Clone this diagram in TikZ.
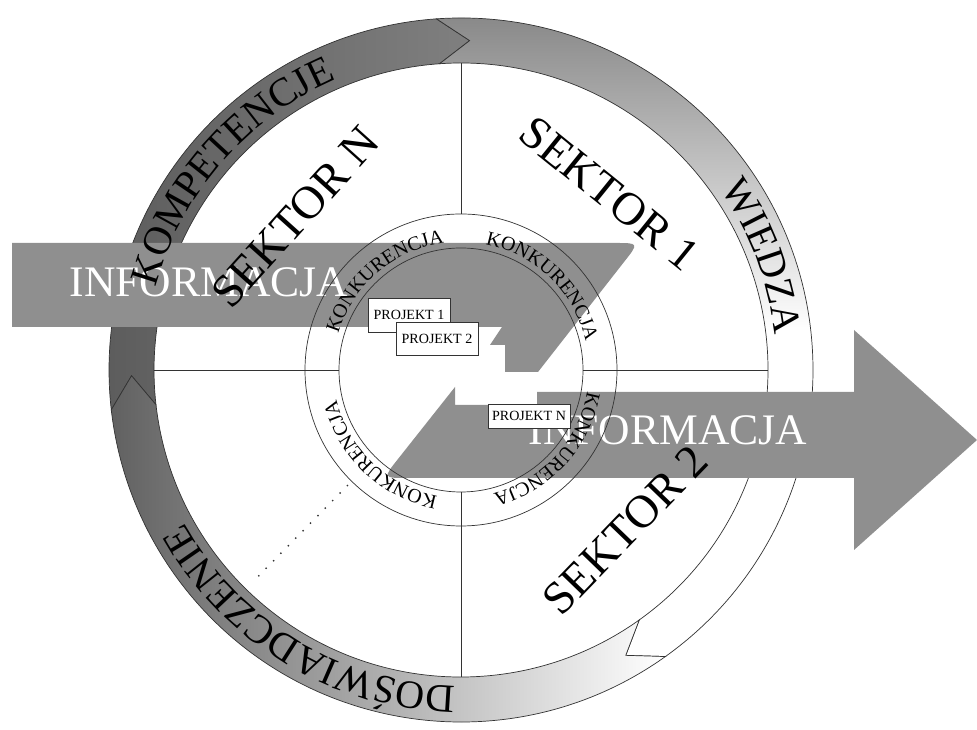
\documentclass[tikz,border=0pt]{standalone}
\usepackage{fontspec}
\setmainfont{Liberation Serif}
\usepackage{tikz}
\usetikzlibrary{decorations.text}
\definecolor{infoGray}{gray}{0.56}
\definecolor{edgeGray}{gray}{0.2}
\newcommand{\ringfont}{\fontsize{28.5}{30}\selectfont}
\newcommand{\konkfont}{\fontsize{14.2}{15}\selectfont}

\begin{document}
\begin{tikzpicture}[x=0.25mm,y=0.25mm,
    ringline/.style={draw=edgeGray,line width=0.5pt},
    projbox/.style={draw=edgeGray,fill=white,line width=0.5pt,inner sep=0pt,
      minimum width=20.5mm,font=\fontsize{10}{11}\selectfont},
    sektor/.style={font=\fontsize{33}{34}\selectfont},
    infotext/.style={font=\fontsize{31}{32}\selectfont,text=white,anchor=base},
    ringtext/.style={decorate,decoration={text along path,text align=center,
      text={|\ringfont|#1}}},
    konktext/.style={decorate,decoration={text along path,text align=center,
      text={|\konkfont|#1}}}]
  \useasboundingbox (0,0) rectangle (977,730);

  % Ring of three arrows
  \begin{scope}[shift={(461,360)}]
    % Kompetencje
    \shadedraw[ringline,left color=black!64,right color=black!50]
      (186.5:352) arc[start angle=186.5,end angle=94,radius=352]
      -- (88.5:329.5) -- (94:307) arc[start angle=94,end angle=186.5,radius=307]
      -- (181:329.5) -- cycle;
    % Wiedza
    \shadedraw[ringline,top color=black!48,bottom color=white,middle color=white]
      (94:352) arc[start angle=94,end angle=-54.5,radius=352]
      -- (-60:329.5) -- (-54.5:307) arc[start angle=-54.5,end angle=94,radius=307]
      -- (88.5:329.5) -- cycle;
    % Doswiadczenie
    \shadedraw[ringline,left color=black!62,right color=white]
      (-54.5:352) arc[start angle=-54.5,end angle=-173.5,radius=352]
      -- (-179:329.5) -- (-173.5:307) arc[start angle=-173.5,end angle=-54.5,radius=307]
      -- (-60:329.5) -- cycle;
    % Sector lines
    \draw[ringline] (90:156) -- (90:307);
    \draw[ringline] (180:122) -- (180:307);
    \draw[ringline] (0:122) -- (0:307);
    \draw[ringline] (270:122) -- (270:307);
  \end{scope}

  % Information arrow, upper part
  \fill[infoGray] (12,487) -- (615,487) .. controls (639,487) .. (624,468)
    -- (538,358) -- (505,358) -- (505,385) -- (490,385) -- (502,403)
    -- (12,403) -- cycle;
  % Information arrow, lower part
  \fill[infoGray] (537,338) -- (854,338) -- (854,400) -- (977,290)
    -- (854,180) -- (854,252) -- (407,252) .. controls (383,252) .. (398,271)
    -- (455,343) -- (455,325) -- (537,325) -- cycle;
  \node[infotext] (infoL) at (209,433) {INFORMACJA};
  \node[infotext] (infoR) at (668,285) {INFORMACJA};

  % Competition circle
  \begin{scope}[shift={(461,360)}]
    \draw[ringline] (0,0) circle[radius=156];
    \draw[ringline] (0,0) circle[radius=122];
    \path[konktext=KONKURENCJA] (170.5:128) arc[start angle=170.5,end angle=90.5,radius=128];
    \path[konktext=KONKURENCJA] (86:128) arc[start angle=86,end angle=6,radius=128];
    \path[konktext=KONKURENCJA] (-2.5:128) arc[start angle=-2.5,end angle=-82.5,radius=128];
    \path[konktext=KONKURENCJA] (-93.5:128) arc[start angle=-93.5,end angle=-173.5,radius=128];
    % Ring labels
    \path[ringtext=KOMPETENCJE] (179:316) arc[start angle=179,end angle=99,radius=316];
    \path[ringtext=WIEDZA] (50.75:316) arc[start angle=50.75,end angle=-9.25,radius=316];
    \path[ringtext=DOŚWIADCZENIE] (279:316) arc[start angle=279,end angle=199,radius=316];
    % Further sectors
    \draw[edgeGray,line width=1.4pt,line cap=round,dash pattern=on 0pt off 7.5pt]
      (225.5:162) -- (225.5:298);
  \end{scope}

  % Sectors
  \node[sektor,rotate=48] (sn) at (295.5,513) {SEKTOR N};
  \node[sektor,rotate=-39] (s1) at (609.5,536.5) {SEKTOR 1};
  \node[sektor,rotate=46] (s2) at (625.5,200) {SEKTOR 2};

  % Projects
  \node[projbox,minimum height=8.5mm] (p1) at (409,415) {PROJEKT 1};
  \node[projbox,minimum height=8.25mm] (p2) at (437,391.5) {PROJEKT 2};
  \node[projbox,minimum height=6mm] (pn) at (529,314) {PROJEKT N};
\end{tikzpicture}
\end{document}
